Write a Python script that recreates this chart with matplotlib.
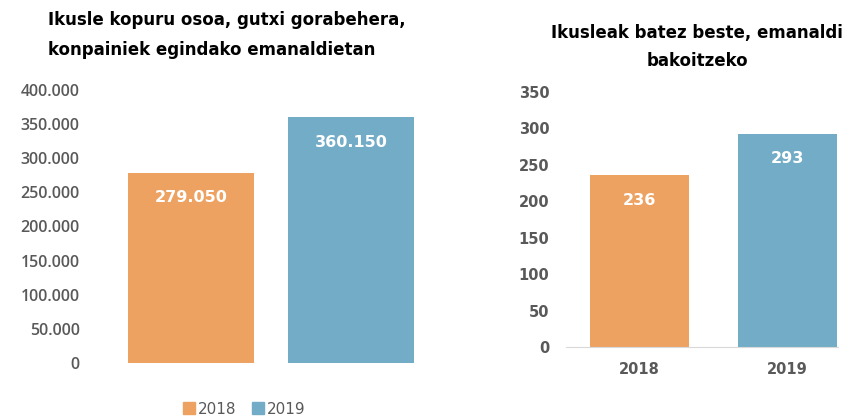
import matplotlib.pyplot as plt
from matplotlib.patches import Patch

plt.rcParams["font.family"] = ["DejaVu Sans"]

years = ["2018", "2019"]
total_viewers = [279050, 360150]
avg_viewers = [236, 293]
colors = ["#EDA262", "#72ACC7"]

total_ticks = [0, 50000, 100000, 150000, 200000, 250000, 300000, 350000, 400000]
avg_ticks = [0, 50, 100, 150, 200, 250, 300, 350]

W, H = 845, 418
fig = plt.figure(figsize=(W / 100, H / 100), dpi=100)
gray = "#595959"


def fmt(v):
    return f"{v:,}".replace(",", ".")


def px_axes(x0, x1, ytop, ybot):
    return fig.add_axes([x0 / W, (H - ybot) / H, (x1 - x0) / W, (ybot - ytop) / H])


# ezkerreko grafikoa
ax1 = px_axes(95, 445, 90, 363)
ax1.bar([0, 1], total_viewers, width=0.79, color=colors)
ax1.set_xlim((95 - 191) / 160, (445 - 191) / 160)
ax1.set_ylim(0, 400000)
ax1.set_yticks(total_ticks)
ax1.set_yticklabels([fmt(t) for t in total_ticks], color=gray, fontsize=11.5,
                    fontfamily="Open Sans", fontweight="semibold")
ax1.set_xticks([])
ax1.tick_params(axis="y", length=0, pad=11)
for s in ax1.spines.values():
    s.set_visible(False)
for i, v in enumerate(total_viewers):
    ax1.annotate(fmt(v), (i, v), xytext=(0, -18), textcoords="offset points",
                 ha="center", va="center", color="white", fontsize=11.5, fontweight="bold")

fig.text(48 / W, 1 - 35 / H, "Ikusle kopuru osoa, gutxi gorabehera,\nkonpainiek egindako emanaldietan",
         ha="left", va="center", fontsize=12, fontweight="bold", linespacing=1.8)

fig.legend([Patch(color=c) for c in colors], years, loc="center", bbox_to_anchor=(244 / W, 1 - 409 / H),
           ncol=2, frameon=False, fontsize=11, handlelength=0.8, handleheight=0.8,
           handletextpad=0.2, columnspacing=1.0, labelcolor=gray)

# eskuineko grafikoa
ax2 = px_axes(566, 838, 92, 347)
ax2.bar([0, 1], avg_viewers, width=0.67, color=colors)
ax2.set_xlim((566 - 639.5) / 148, (838 - 639.5) / 148)
ax2.set_ylim(0, 350)
ax2.set_yticks(avg_ticks)
ax2.set_yticklabels([str(t) for t in avg_ticks], color=gray, fontsize=10.5, fontweight="bold")
ax2.set_xticks([0, 1])
ax2.set_xticklabels(years, color=gray, fontsize=10.5, fontweight="bold")
ax2.tick_params(axis="y", length=0, pad=12)
ax2.tick_params(axis="x", length=0, pad=11)
for k in ["top", "right", "left"]:
    ax2.spines[k].set_visible(False)
ax2.spines["bottom"].set_color("#D9D9D9")
for i, v in enumerate(avg_viewers):
    ax2.annotate(str(v), (i, v), xytext=(0, -18), textcoords="offset points",
                 ha="center", va="center", color="white", fontsize=11.5, fontweight="bold")

fig.text(697 / W, 1 - 47 / H, "Ikusleak batez beste, emanaldi\nbakoitzeko",
         ha="center", va="center", fontsize=12, fontweight="bold", linespacing=1.75)

plt.savefig("out.png", dpi=100)
